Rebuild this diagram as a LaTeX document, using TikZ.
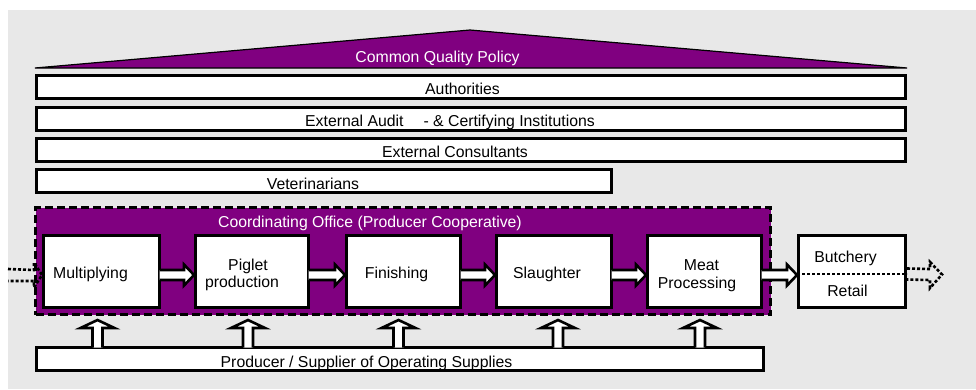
\documentclass[tikz,border=0pt]{standalone}
\usepackage{fontspec}
\setmainfont{Liberation Sans}
\usetikzlibrary{calc}
\definecolor{purp}{HTML}{800080}
\definecolor{bgg}{HTML}{E8E8E8}
\newcommand\fatarrow[2]{%
  \draw[fatarr] ($(#1.east)+(-1.5,-1.5)$) -- ($(#2.west)+(-10,-1.5)$) -- ($(#2.west)+(-10,-7)$)
    -- ($(#2.west)+(0,3.5)$) -- ($(#2.west)+(-10,14)$) -- ($(#2.west)+(-10,8.5)$) -- ($(#1.east)+(-1.5,8.5)$);}
\newcommand\uparr[1]{%
  \draw[fatarr] ($(sup.north -| #1)+(-5,1.5)$) -- ($(co.south -| #1)+(-5,12)$) -- ($(co.south -| #1)+(-17,12)$)
    -- ($(co.south -| #1)+(0,4)$) -- ($(co.south -| #1)+(17,12)$) -- ($(co.south -| #1)+(5,12)$) -- ($(sup.north -| #1)+(5,1.5)$);}
\begin{document}
\begin{tikzpicture}[x=1pt,y=-1pt,font=\fontsize{15.8}{18}\selectfont,
  box/.style={draw=black,line width=3pt,fill=white,inner sep=0pt,anchor=north west},
  txt/.style={anchor=base,inner sep=0pt},
  wtxt/.style={txt,text=white},
  fatarr/.style={draw=black,line width=2.6pt,fill=white,line join=miter},
  dotarr/.style={draw=black,line width=2.6pt,dash pattern=on 3pt off 2pt}]
\useasboundingbox (0,0) rectangle (976,389);
\fill[bgg] (8,10) rectangle (976,389);
% roof
\draw[fill=purp,line width=1.2pt] (35,68) -- (470,30) -- (907,68) -- cycle;
\node[wtxt] (cqpT) at (437.5,62) {Common Quality Policy};
% layers
\node[box,minimum width=869pt,minimum height=23pt] (auth) at (35,74) {};
\node[box,minimum width=869pt,minimum height=22.5pt] (audit) at (35,106) {};
\node[box,minimum width=869pt,minimum height=23pt] (cons) at (35,137) {};
\node[box,minimum width=575pt,minimum height=23pt] (vet) at (35,168) {};
\node[txt] (authT) at (462.5,94) {Authorities};
\node[txt] (auditT) at (450,126) {External Audit\hspace{20pt}- \& Certifying Institutions};
\node[txt] (consT) at (455,157.5) {External Consultants};
\node[txt] (vetT) at (313,189) {Veterinarians};
% coordinating office
\node[draw=black,fill=purp,line width=3pt,dash pattern=on 8pt off 4pt,inner sep=0pt,anchor=north west,
  minimum width=735pt,minimum height=107pt] (co) at (34,206) {};
\node[wtxt] (coT) at (370,227) {Coordinating Office (Producer Cooperative)};
% chain
\node[box,minimum width=116pt,minimum height=72pt] (mult) at (42,234) {};
\node[box,minimum width=113pt,minimum height=72pt] (pig) at (194,234) {};
\node[box,minimum width=114pt,minimum height=72pt] (fin) at (345,234) {};
\node[box,minimum width=115pt,minimum height=72pt] (sla) at (495,234) {};
\node[box,minimum width=114pt,minimum height=72pt] (meat) at (646,234) {};
\node[box,minimum width=107pt,minimum height=72pt] (but) at (797,234) {};
\node[txt] (multT) at (90.5,278.5) {Multiplying};
\node[txt] (pigT1) at (248,270.5) {Piglet};
\node[txt] (pigT2) at (242,287.5) {production};
\node[txt] (finT) at (396.5,278.5) {Finishing};
\node[txt] (slaT) at (547,278.5) {Slaughter};
\node[txt] (meatT1) at (701.5,270.5) {Meat};
\node[txt] (meatT2) at (697,288) {Processing};
\node[txt] (butT1) at (845.5,262) {Butchery};
\node[txt] (butT2) at (847.5,296) {Retail};
\draw[dotarr] ($(but.west)+(0,2.5)$) -- ($(but.east)+(0,2.5)$);
% supplier
\node[box,minimum width=727pt,minimum height=23pt] (sup) at (35,346) {};
\node[txt] (supT) at (366.5,367.5) {Producer / Supplier of Operating Supplies};
% flow arrows
\fatarrow{mult}{pig}
\fatarrow{pig}{fin}
\fatarrow{fin}{sla}
\fatarrow{sla}{meat}
\fatarrow{meat}{but}
% supply arrows
\coordinate (ux1) at (97.5,0);
\coordinate (ux2) at (248,0);
\coordinate (ux3) at (398.5,0);
\coordinate (ux4) at (558,0);
\coordinate (ux5) at (700,0);
\uparr{ux1}\uparr{ux2}\uparr{ux3}\uparr{ux4}\uparr{ux5}
% dotted in/out arrows
\coordinate (inL) at (8,275);
\coordinate (outR) at (942,274.5);
\draw[dotarr] ($(inL)+(0,-6)$) -- ($(mult.west)+(-8,-1.5)$) -- ($(mult.west)+(-8,-9)$) -- ($(mult.west)+(0,3.5)$)
  -- ($(mult.west)+(-8,16)$) -- ($(mult.west)+(-8,9.5)$) -- ($(inL)+(0,6)$);
\draw[dotarr] ($(but.east)+(0,-3)$) -- ($(outR)+(-12,-5.5)$) -- ($(outR)+(-12,-12.5)$) -- (outR)
  -- ($(outR)+(-12,13.5)$) -- ($(outR)+(-12,5.5)$) -- ($(but.east)+(0,8)$);
\end{tikzpicture}
\end{document}
